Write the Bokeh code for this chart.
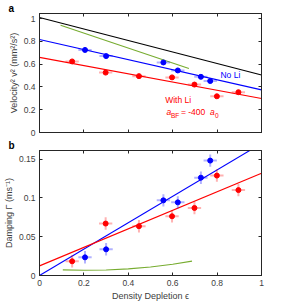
from bokeh.plotting import figure
from bokeh.layouts import column
from bokeh.models import Range1d, Label, LinearAxis, FixedTicker, Title
from bokeh.embed import file_html
from bokeh.resources import INLINE

# ---- data ----
no_li_eps = [0.205, 0.30, 0.558, 0.623, 0.727, 0.769]
no_li_v2 = [0.725, 0.671, 0.615, 0.545, 0.489, 0.452]
no_li_gamma = [0.0234, 0.0337, 0.0968, 0.0942, 0.126, 0.148]
li_eps = [0.147, 0.298, 0.448, 0.597, 0.698, 0.799, 0.896]
li_v2 = [0.624, 0.526, 0.495, 0.484, 0.421, 0.318, 0.354]
li_gamma = [0.0183, 0.0669, 0.0635, 0.0763, 0.087, 0.1287, 0.110]
eps_err = 0.03
v2_err = 0.012
gamma_err = 0.008

line_eps = [0.0, 1.0]
black_v2 = [1.01, 0.505]
blue_v2 = [0.817, 0.374]
red_v2 = [0.66, 0.298]
green_eps_a = [0.095, 0.673]
green_v2 = [0.941, 0.562]

blue_gamma = [0.0, 0.170]
red_gamma = [0.0124, 0.1317]
green_eps_b = [0.105, 0.2, 0.3, 0.4, 0.5, 0.6, 0.687]
green_gamma = [0.0073, 0.0068, 0.0070, 0.0085, 0.0110, 0.0145, 0.0185]

x_ticks = [0, 0.2, 0.4, 0.6, 0.8, 1]
x_tick_labels = ["0", "0.2", "0.4", "0.6", "0.8", "1"]
v2_ticks = [0, 0.2, 0.4, 0.6, 0.8, 1]
v2_tick_labels = ["0", "0.2", "0.4", "0.6", "0.8", "1"]
g_ticks = [0, 0.05, 0.1, 0.15]
g_tick_labels = ["0", "0.05", "0.1", "0.15"]

BLUE = "#0000ff"
RED = "#ff0000"
GREEN = "#77ac30"
AX = "#262626"
FONT = "Liberation Sans"
TXT = "#404040"


def style(p, xt, xl, yt, yl, show_x_labels):
    p.outline_line_color = AX
    p.outline_line_width = 1
    p.grid.visible = False
    p.background_fill_color = "white"
    p.border_fill_color = "white"
    top = LinearAxis()
    right = LinearAxis()
    p.add_layout(top, "above")
    p.add_layout(right, "right")
    bottom = p.below[0]
    left = p.left[0]
    for ax in [top, right, bottom, left]:
        ax.axis_line_color = AX
        ax.major_tick_in = 3
        ax.major_tick_out = 0
        ax.minor_tick_line_color = None
        ax.major_tick_line_color = AX
        ax.major_label_text_font = FONT
        ax.major_label_text_font_size = "8.5px"
        ax.major_label_text_color = TXT
        ax.axis_label_text_font = FONT
        ax.axis_label_text_font_size = "9px"
        ax.axis_label_text_font_style = "normal"
        ax.axis_label_text_color = TXT
        ax.major_label_standoff = 4
        ax.axis_label_standoff = 2
    for ax in [top, bottom]:
        ax.ticker = FixedTicker(ticks=xt)
    for ax in [left, right]:
        ax.ticker = FixedTicker(ticks=yt)
    bottom.major_label_overrides = {t: l for t, l in zip(xt, xl)}
    left.major_label_overrides = {t: l for t, l in zip(yt, yl)}
    top.major_label_overrides = {t: "" for t in xt}
    right.major_label_overrides = {t: "" for t in yt}
    top.major_label_standoff = 0
    right.major_label_standoff = 0
    if not show_x_labels:
        bottom.major_label_overrides = {t: "" for t in xt}
        bottom.major_label_standoff = 0
    return bottom, left


def errbars(p, xs, ys, xe, ye, color):
    p.segment(x0=[x - xe for x in xs], y0=ys, x1=[x + xe for x in xs], y1=ys,
              line_color=color, line_alpha=0.3, line_width=2)
    p.segment(x0=xs, y0=[y - ye for y in ys], x1=xs, y1=[y + ye for y in ys],
              line_color=color, line_alpha=0.3, line_width=2)
    p.scatter(xs, ys, size=5, marker="circle", fill_color=color, line_color=color)


def panel_title(text):
    return Title(text=text, align="left", offset=-31, standoff=0,
                 text_font=FONT, text_font_size="10px", text_font_style="bold",
                 text_color="black")


def note(p, x, y, text, color, size="8.5px", style="normal"):
    p.add_layout(Label(x=x, y=y, text=text, text_color=color, text_font=FONT,
                       text_font_size=size, text_font_style=style, text_baseline="middle"))


# ---- panel a ----
pa = figure(frame_width=222, frame_height=119, x_range=Range1d(0, 1), y_range=Range1d(0, 1.045),
            output_backend="svg", toolbar_location=None, title=panel_title("a"),
            min_border_left=32, min_border_right=10, min_border_top=0, min_border_bottom=5)
a_bottom, a_left = style(pa, x_ticks, x_tick_labels, v2_ticks, v2_tick_labels, False)
a_left.axis_label = "Velocity² v² (mm²/s²)"
pa.line(line_eps, black_v2, line_color="black", line_width=1.1)
pa.line(line_eps, blue_v2, line_color=BLUE, line_width=1.1)
pa.line(line_eps, red_v2, line_color=RED, line_width=1.1)
pa.line(green_eps_a, green_v2, line_color=GREEN, line_width=1.1)
errbars(pa, no_li_eps, no_li_v2, eps_err, v2_err, BLUE)
errbars(pa, li_eps, li_v2, eps_err, v2_err, RED)

note(pa, 0.815, 0.509, "No Li", BLUE)
note(pa, 0.566, 0.285, "With Li", RED)
note(pa, 0.572, 0.183, "a", RED, style="italic")
note(pa, 0.592, 0.149, "BF", RED, size="6.5px")
note(pa, 0.637, 0.183, "= -400", RED)
note(pa, 0.768, 0.183, "a", RED, style="italic")
note(pa, 0.790, 0.149, "0", RED, size="6.5px")

# ---- panel b ----
pb = figure(frame_width=222, frame_height=125, x_range=Range1d(0, 1), y_range=Range1d(0, 0.161),
            output_backend="svg", toolbar_location=None, title=panel_title("b"),
            min_border_left=32, min_border_right=10, min_border_top=0, min_border_bottom=24)
b_bottom, b_left = style(pb, x_ticks, x_tick_labels, g_ticks, g_tick_labels, True)
b_left.axis_label = "Damping Γ (ms⁻¹)"
b_bottom.axis_label = "Density Depletion ϵ"
pb.line(line_eps, blue_gamma, line_color=BLUE, line_width=1.1)
pb.line(line_eps, red_gamma, line_color=RED, line_width=1.1)
pb.line(green_eps_b, green_gamma, line_color=GREEN, line_width=1.1)
errbars(pb, no_li_eps, no_li_gamma, eps_err, gamma_err, BLUE)
errbars(pb, li_eps, li_gamma, eps_err, gamma_err, RED)

layout = column(pa, pb, spacing=0)
open("out.html", "w").write(file_html(layout, INLINE))
